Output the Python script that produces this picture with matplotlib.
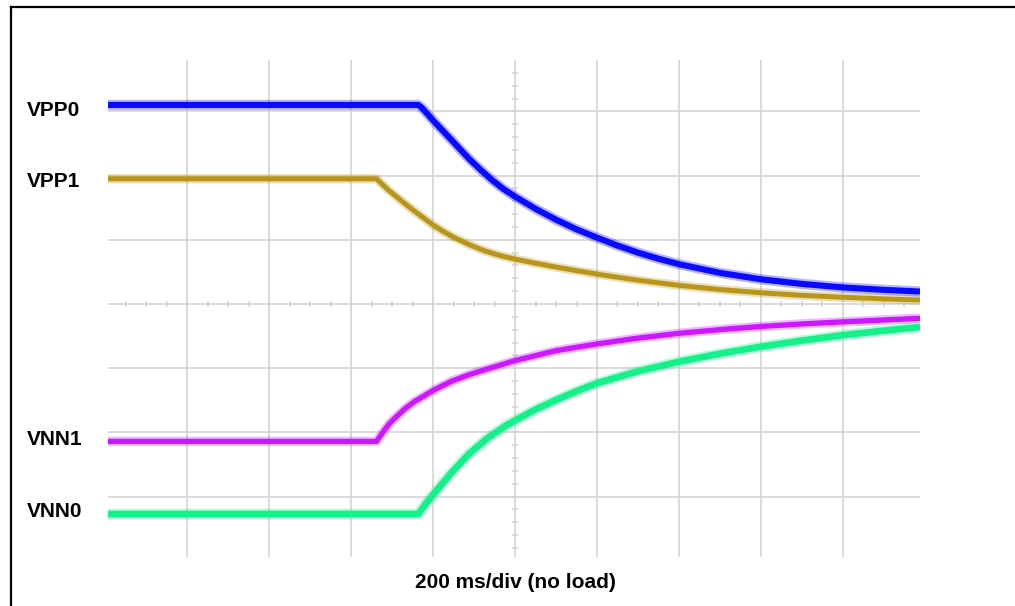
import numpy as np
import matplotlib.pyplot as plt
from matplotlib.lines import Line2D

plt.rcParams['font.family'] = ['Liberation Sans', 'DejaVu Sans']

# time in ms (200 ms/div, 0 = screen centre), level in divisions
t_vpp0 = [-993, -236, -228, -218, -200, -175, -150, -112, -84, -56, -28, 0, 50, 100, 150, 200,
          250, 300, 350, 400, 500, 600, 700, 800, 900, 988]
v_vpp0 = [3.10, 3.10, 3.06, 2.99, 2.86, 2.69, 2.52, 2.26, 2.09, 1.93, 1.79, 1.673, 1.483, 1.313, 1.163, 1.033,
          0.91, 0.80, 0.705, 0.62, 0.485, 0.385, 0.313, 0.258, 0.22, 0.194]

t_vpp1 = [-993, -338, -325, -310, -289, -270, -250, -225, -200, -175, -150, -112, -75, -40, 0,
          50, 100, 150, 200, 300, 400, 500, 600, 700, 800, 900, 988]
v_vpp1 = [1.95, 1.95, 1.87, 1.78, 1.67, 1.57, 1.47, 1.35, 1.23, 1.13, 1.04, 0.925, 0.83, 0.76, 0.70,
          0.635, 0.575, 0.52, 0.465, 0.37, 0.29, 0.225, 0.175, 0.135, 0.105, 0.08, 0.062]

t_vnn1 = [-993, -338, -324, -307, -289, -267, -245, -200, -156, -112, -67, 0, 101, 200, 296,
          400, 509, 599, 699, 800, 899, 988]
v_vnn1 = [-2.14, -2.14, -2.01, -1.865, -1.751, -1.622, -1.518, -1.347, -1.205, -1.10, -1.01, -0.881, -0.725, -0.622, -0.534,
          -0.456, -0.394, -0.350, -0.311, -0.278, -0.249, -0.223]

t_vnn0 = [-993, -236, -218, -200, -156, -112, -67, -23, 0, 48, 101, 154, 200, 300,
          400, 500, 600, 700, 800, 900, 988]
v_vnn0 = [-3.27, -3.27, -3.11, -2.97, -2.632, -2.332, -2.088, -1.896, -1.813, -1.648, -1.492, -1.347, -1.233, -1.048,
          -0.898, -0.773, -0.665, -0.570, -0.485, -0.415, -0.358]

traces = [
    (t_vpp1, v_vpp1, "#b8961c", 3.6),
    (t_vpp0, v_vpp0, "#0a0aff", 4.4),
    (t_vnn0, v_vnn0, "#16f08a", 4.8),
    (t_vnn1, v_vnn1, "#cc18ff", 3.8),
]

# channel labels and their baselines (pixels from top)
labels = ["VPP0", "VPP1", "VNN1", "VNN0"]
label_base = [116, 187, 445, 517]

fig = plt.figure(figsize=(10.15, 6.06), dpi=100)
ax = fig.add_axes([108 / 1015, 49 / 606, 812 / 1015, 497 / 606])
ax.set_xlim(-993, 988)
ax.set_ylim(-3.94, 3.80)
ax.axis("off")

grid_c = "#d4d4d4"
for x in np.arange(-800, 801, 200):
    ax.axvline(x, color=grid_c, lw=1.2, zorder=1)
for y in np.arange(-3, 4, 1):
    ax.axhline(y, color=grid_c, lw=1.2, zorder=1)

# minor ticks on the centre lines
xt = np.arange(-950, 988, 50)
ax.plot(xt, np.zeros_like(xt), ls="none", marker="|", ms=4.5, mew=1.2, color=grid_c, zorder=1)
yt = np.arange(-3.8, 3.8, 0.2)
ax.plot(np.zeros_like(yt), yt, ls="none", marker="_", ms=4.5, mew=1.2, color=grid_c, zorder=1)

for t, v, c, lw in traces:
    ax.plot(t, v, color=c, lw=lw + 3.0, alpha=0.3, solid_capstyle="butt",
            solid_joinstyle="round", zorder=2)
    ax.plot(t, v, color=c, lw=lw, solid_capstyle="butt", solid_joinstyle="round", zorder=3)

for lab, yb in zip(labels, label_base):
    fig.text(27 / 1015, 1 - yb / 606, lab, fontsize=15, fontweight="bold",
             ha="left", va="baseline")

fig.text(515 / 1015, 1 - 588 / 606, "200 ms/div (no load)", fontsize=15,
         fontweight="bold", ha="center", va="baseline")

# frame around the picture (left and top edges visible)
fig.add_artist(Line2D([11 / 1015, 11 / 1015], [0, 1 - 7 / 606], color="black", lw=1.6))
fig.add_artist(Line2D([11 / 1015, 1], [1 - 7 / 606, 1 - 7 / 606], color="black", lw=1.6))

fig.savefig("out.png", dpi=100)
